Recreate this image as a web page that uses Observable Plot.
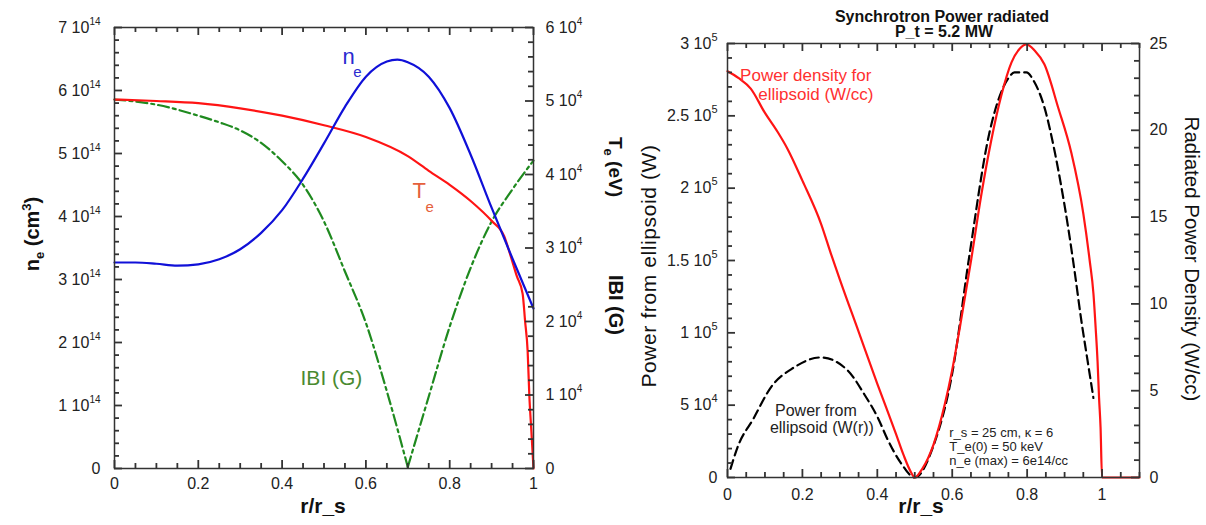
<!DOCTYPE html>
<html><head><meta charset="utf-8">
<script src="https://cdn.jsdelivr.net/npm/d3@7"></script>
<script src="https://cdn.jsdelivr.net/npm/@observablehq/plot@0.6"></script>
<style>
html,body{margin:0;padding:0;background:#fff;}
#wrap{display:flex;width:1206px;height:525px;overflow:hidden;background:#fff;font-family:"Liberation Sans",Arial,sans-serif;}
#wrap svg{display:block;flex:none;}
</style></head><body><div id="wrap"></div>
<script>
// ---------- LEFT PANEL DATA ----------
// electron density n_e (units of 1e14 cm^-3)
const neR = [0,0.05,0.1,0.15,0.2,0.25,0.3,0.35,0.4,0.45,0.5,0.55,0.6,0.65,0.675,0.7,0.75,0.8,0.85,0.9,0.95,1.0];
const neV = [3.27,3.27,3.25,3.22,3.24,3.32,3.48,3.74,4.1,4.6,5.16,5.74,6.22,6.46,6.49,6.45,6.22,5.72,4.98,4.14,3.33,2.54];
// electron temperature T_e (units of 1e4 eV)
const teR = [0,0.1,0.2,0.3,0.4,0.5,0.6,0.7,0.75,0.8,0.85,0.9,0.93,0.945,0.96,0.974,0.98,0.986,0.99,0.995,1.0];
const teV = [5.02,5.0,4.97,4.9,4.8,4.67,4.51,4.25,4.05,3.86,3.64,3.37,3.16,2.9,2.62,2.38,2.0,1.6,1.0,0.5,0];
// |B| (units of 1e4 G)
const bR = [0,0.1,0.2,0.25,0.3,0.35,0.4,0.45,0.5,0.55,0.6,0.65,0.7,0.75,0.8,0.85,0.9,0.95,1.0];
const bV = [5.02,4.95,4.8,4.71,4.6,4.43,4.18,3.86,3.36,2.68,1.98,1.05,0.02,0.98,1.93,2.73,3.36,3.8,4.19];

const xTicksL = [0,0.2,0.4,0.6,0.8,1];
const xLabelsL = ["0","0.2","0.4","0.6","0.8","1"];
const yTicksL = [0,1,2,3,4,5,6,7];
const yLabelsL = ["0","1 10^14","2 10^14","3 10^14","4 10^14","5 10^14","6 10^14","7 10^14"];
const y2TicksL = [0,1,2,3,4,5,6];
const y2LabelsL = ["0","1 10^4","2 10^4","3 10^4","4 10^4","5 10^4","6 10^4"];

// ---------- RIGHT PANEL DATA ----------
// radiated power density (W/cc)
const pdR = [0,0.03,0.062,0.1,0.134,0.161,0.2,0.25,0.276,0.3,0.35,0.4,0.45,0.47,0.49,0.5,0.52,0.55,0.58,0.6,0.62,0.651,0.677,0.704,0.731,0.758,0.78,0.798,0.82,0.846,0.883,0.918,0.95,0.967,0.977,0.983,0.988,0.992,0.996,1.0,1.1];
const pdV = [23.4,23.0,22.4,21.0,19.9,18.9,17.1,14.6,12.9,11.4,8.4,5.4,2.5,1.3,0.3,0,0.5,1.9,4.2,6.2,8.6,12.6,16.2,19.4,22.0,23.9,24.7,24.95,24.6,23.8,21.3,18.7,15.2,12.5,10.6,8.6,6.7,4.6,2.9,0,0];
// power from ellipsoid (units of 1e5 W)
const pwR = [0.008,0.027,0.07,0.115,0.177,0.249,0.321,0.364,0.402,0.428,0.463,0.5,0.55,0.6,0.645,0.699,0.75,0.766,0.798,0.82,0.846,0.873,0.892,0.91,0.927,0.945,0.96,0.977];
const pwV = [0.06,0.21,0.41,0.62,0.76,0.83,0.74,0.58,0.41,0.26,0.1,0,0.22,0.72,1.52,2.38,2.76,2.8,2.8,2.73,2.56,2.26,2.0,1.72,1.42,1.08,0.83,0.55];

const xTicksR = [0,0.2,0.4,0.6,0.8,1];
const xLabelsR = ["0","0.2","0.4","0.6","0.8","1"];
const yTicksR = [0,0.5,1,1.5,2,2.5,3];
const yLabelsR = ["0","5 10^4","1 10^5","1.5 10^5","2 10^5","2.5 10^5","3 10^5"];
const y2TicksR = [0,5,10,15,20,25];
const y2LabelsR = ["0","5","10","15","20","25"];

// ---------- helpers ----------
const FONT = "'Liberation Sans', Arial, Helvetica, sans-serif";
const INK = "#222";
const zip = (R, V) => R.map((r, i) => ({r, v: V[i]}));
function minors(a, b, step, majors) {
  return d3.range(Math.round((b - a) / step) + 1).map(i => +(a + i * step).toFixed(6))
    .filter(v => !majors.some(m => Math.abs(m - v) < 1e-9));
}
// inward tick marks on each side of the frame; len in pixels converted with the panel's scale ratio
function edgeTicks(side, values, len, g) {
  const st = {stroke: "#333", strokeWidth: 1.8};
  const lx = len * (g.xd[1] - g.xd[0]) / g.pw, ly = len * (g.yd[1] - g.yd[0]) / g.ph;
  if (side === "bottom") return Plot.ruleX(values, {...st, x: d => d, y1: g.yd[0], y2: g.yd[0] + ly});
  if (side === "top") return Plot.ruleX(values, {...st, x: d => d, y1: g.yd[1], y2: g.yd[1] - ly});
  if (side === "left") return Plot.ruleY(values, {...st, y: d => d, x1: g.xd[0], x2: g.xd[0] + lx});
  return Plot.ruleY(values, {...st, y: d => d, x1: g.xd[1], x2: g.xd[1] - lx});
}
function boxTicks(g, xMaj, xMin, yMaj, yMin, y2Maj, y2Min) {
  return [
    edgeTicks("bottom", xMaj, 8, g), edgeTicks("bottom", xMin, 5, g),
    edgeTicks("top", xMaj, 8, g), edgeTicks("top", xMin, 5, g),
    edgeTicks("left", yMaj, 8, g), edgeTicks("left", yMin, 5, g),
    edgeTicks("right", y2Maj, 8, g), edgeTicks("right", y2Min, 5, g)
  ];
}
function tickText(axis, anchor, values, labels, pad) {
  const m = new Map(values.map((v, i) => [v, labels[i]]));
  const f = axis === "x" ? Plot.axisX : Plot.axisY;
  return f(values, {anchor, tickSize: 0, tickPadding: pad, tickFormat: d => m.get(d), fill: INK, label: null, fontSize: 16});
}
function supify(svg, size, dy) {
  d3.select(svg).selectAll("text").each(function () {
    const m = /^(.*)\^(\S+)$/.exec(this.textContent);
    if (!m) return;
    const s = d3.select(this);
    s.text(null);
    s.append("tspan").text(m[1]);
    s.append("tspan").attr("font-size", size).attr("dy", dy).text(m[2]);
  });
}
function label(svg, {x, y, rotate = 0, anchor = "middle", size = 18, weight = "bold", fill = "#111", spacing = 0, parts}) {
  const t = d3.select(svg).append("text")
    .attr("transform", `translate(${x},${y}) rotate(${rotate})`)
    .attr("text-anchor", anchor).attr("font-size", size).attr("font-weight", weight)
    .attr("fill", fill).attr("font-family", FONT);
  if (spacing) t.attr("letter-spacing", spacing);
  for (const p of parts) {
    const s = t.append("tspan").text(p.t);
    if (p.size) s.attr("font-size", p.size);
    if (p.dy) s.attr("dy", p.dy);
  }
}
const style = {fontFamily: FONT, fontSize: "16px", background: "transparent", color: INK, overflow: "visible"};

// ---------- LEFT CHART ----------
const kL = 7 / 6; // 1e4 units (right axis) -> 1e14 units (left axis)
const gL = {xd: [0, 1], yd: [0, 7], pw: 620 - 114 - 87, ph: 525 - 27 - 57};
const bData = zip(bR, bV);
const bMin = d3.least(bData, d => d.v).r;
const bSegs = [...bData.filter(d => d.r <= bMin).map(d => ({...d, seg: "in"})),
               ...bData.filter(d => d.r >= bMin).map(d => ({...d, seg: "out"}))];
const leftSvg = Plot.plot({
  width: 620, height: 525,
  marginLeft: 114, marginRight: 87, marginTop: 27, marginBottom: 57,
  x: {domain: gL.xd}, y: {domain: gL.yd},
  style,
  marks: [
    Plot.line(bSegs, {x: "r", y: d => d.v * kL, z: "seg", stroke: "#1f8a1f", strokeWidth: 2.2, strokeDasharray: "11,4,3,4", curve: "monotone-x"}),
    Plot.line(zip(teR, teV), {x: "r", y: d => d.v * kL, stroke: "#ff1414", strokeWidth: 2.2, curve: "monotone-x"}),
    Plot.line(zip(neR, neV), {x: "r", y: "v", stroke: "#1010d8", strokeWidth: 2.2, curve: "monotone-x"}),
    Plot.frame({stroke: "#333", strokeWidth: 1.5}),
    tickText("x", "bottom", xTicksL, xLabelsL, 9),
    tickText("y", "left", yTicksL, yLabelsL, 14),
    tickText("y", "right", y2TicksL.map(v => v * kL), y2LabelsL, 12),
    Plot.text(["n"], {x: 0.544, y: 6.54, text: d => d, textAnchor: "start", fontSize: 22, fill: "#2a2ad0"}),
    Plot.text(["e"], {x: 0.570, y: 6.29, text: d => d, textAnchor: "start", fontSize: 15, fill: "#2a2ad0"}),
    Plot.text(["T"], {x: 0.711, y: 4.40, text: d => d, textAnchor: "start", fontSize: 22, fill: "#e5603c"}),
    Plot.text(["e"], {x: 0.742, y: 4.14, text: d => d, textAnchor: "start", fontSize: 15, fill: "#e5603c"}),
    Plot.text(["IBI (G)"], {x: 0.444, y: 1.44, text: d => d, textAnchor: "start", fontSize: 21, fill: "#4a8a30"}),
    ...boxTicks(gL, xTicksL, minors(0, 1, 0.05, xTicksL), yTicksL, minors(0, 7, 0.2, yTicksL),
      y2TicksL.map(v => v * kL), minors(0, 6, 0.2, y2TicksL).map(v => v * kL))
  ]
});
supify(leftSvg, 10, -8);
label(leftSvg, {x: 323, y: 513, size: 21, parts: [{t: "r/r_s"}]});
label(leftSvg, {x: 39, y: 234, rotate: -90, size: 20, parts: [
  {t: "n"}, {t: "e", size: 13, dy: 5}, {t: " (cm", dy: -5}, {t: "3", size: 13, dy: -8}, {t: ")", dy: 8}]});
label(leftSvg, {x: 609, y: 137, rotate: 90, anchor: "start", size: 19, parts: [
  {t: "T"}, {t: "e", size: 13, dy: 5}, {t: " (eV)", dy: -5}]});
label(leftSvg, {x: 609, y: 275, rotate: 90, anchor: "start", size: 20, parts: [{t: "IBI (G)"}]});

// ---------- RIGHT CHART ----------
const kR = 3 / 25; // W/cc (right axis) -> 1e5 W (left axis)
const gR = {xd: [0, 1.1], yd: [0, 3], pw: 586 - 107 - 67, ph: 525 - 43 - 48};
const rightSvg = Plot.plot({
  width: 586, height: 525,
  marginLeft: 107, marginRight: 67, marginTop: 43, marginBottom: 48,
  x: {domain: gR.xd}, y: {domain: gR.yd},
  style,
  marks: [
    Plot.line(zip(pwR, pwV), {x: "r", y: "v", stroke: "#000", strokeWidth: 2.2, strokeDasharray: "9,5", curve: "monotone-x"}),
    Plot.line(zip(pdR, pdV), {x: "r", y: d => d.v * kR, stroke: "#ff1414", strokeWidth: 2.2, curve: "monotone-x"}),
    Plot.frame({stroke: "#333", strokeWidth: 1.5}),
    tickText("x", "bottom", xTicksR, xLabelsR, 11),
    tickText("y", "left", yTicksR, yLabelsR, 10),
    tickText("y", "right", y2TicksR.map(v => v * kR), y2LabelsR, 10),
    Plot.text(["Power density for"], {x: 0.209, y: 2.78, text: d => d, fontSize: 17, fill: "#ff3030"}),
    Plot.text(["ellipsoid (W/cc)"], {x: 0.236, y: 2.65, text: d => d, fontSize: 17, fill: "#ff3030"}),
    Plot.text(["Power from"], {x: 0.236, y: 0.463, text: d => d, fontSize: 16, fill: "#222"}),
    Plot.text(["ellipsoid (W(r))"], {x: 0.252, y: 0.346, text: d => d, fontSize: 16, fill: "#222"}),
    Plot.text(["r_s = 25 cm, κ = 6"], {x: 0.592, y: 0.311, text: d => d, textAnchor: "start", fontSize: 13, fill: "#222"}),
    Plot.text(["T_e(0) = 50 keV"], {x: 0.592, y: 0.214, text: d => d, textAnchor: "start", fontSize: 13, fill: "#222"}),
    Plot.text(["n_e (max) = 6e14/cc"], {x: 0.592, y: 0.112, text: d => d, textAnchor: "start", fontSize: 13, fill: "#222"}),
    ...boxTicks(gR, xTicksR, minors(0, 1.1, 0.05, xTicksR), yTicksR, minors(0, 3, 0.1, yTicksR),
      y2TicksR.map(v => v * kR), minors(0, 25, 1, y2TicksR).map(v => v * kR))
  ]
});
supify(rightSvg, 11, -8);
label(rightSvg, {x: 322, y: 22, size: 16, parts: [{t: "Synchrotron Power radiated"}]});
label(rightSvg, {x: 324, y: 37, size: 16, parts: [{t: "P_t = 5.2 MW"}]});
label(rightSvg, {x: 301, y: 513, size: 21, parts: [{t: "r/r_s"}]});
label(rightSvg, {x: 36, y: 266, rotate: -90, size: 21, weight: "normal", spacing: 0.6, parts: [{t: "Power from ellipsoid (W)"}]});
label(rightSvg, {x: 565, y: 259, rotate: 90, size: 20.5, weight: "normal", parts: [{t: "Radiated Power Density (W/cc)"}]});

document.getElementById("wrap").append(leftSvg, rightSvg);
</script>
</body></html>
